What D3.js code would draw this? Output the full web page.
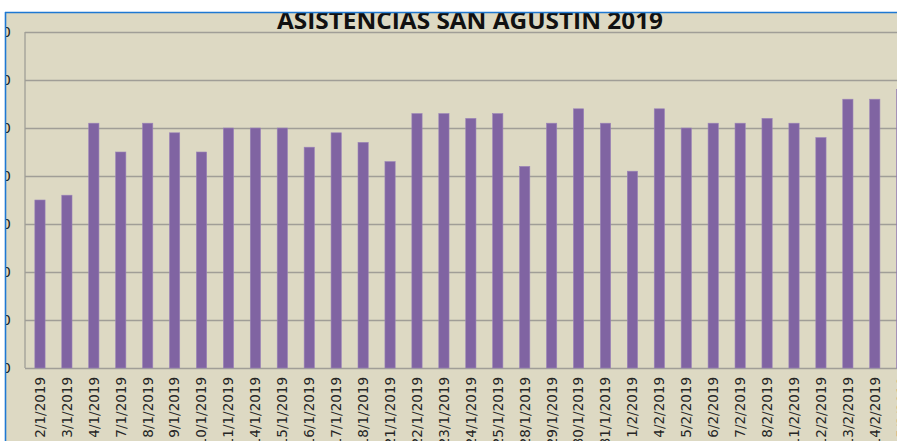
<!DOCTYPE html>
<html>
<head>
<meta charset="utf-8">
<script src="https://cdn.jsdelivr.net/npm/d3@7"></script>
<style>
  body { margin: 0; background: #fff; }
  svg { display: block; }
</style>
</head>
<body>
<div id="chart"></div>
<script>
// data
var fechas = ["2/1/2019", "3/1/2019", "4/1/2019", "7/1/2019", "8/1/2019", "9/1/2019",
  "10/1/2019", "11/1/2019", "14/1/2019", "15/1/2019", "16/1/2019", "17/1/2019",
  "18/1/2019", "21/1/2019", "22/1/2019", "23/1/2019", "24/1/2019", "25/1/2019",
  "28/1/2019", "29/1/2019", "30/1/2019", "31/1/2019", "1/2/2019", "4/2/2019",
  "5/2/2019", "6/2/2019", "7/2/2019", "8/2/2019", "11/2/2019", "12/2/2019",
  "13/2/2019", "14/2/2019", "15/2/2019"];
var asistencias = [35, 36, 51, 45, 51, 49, 45, 50, 50, 50, 46, 49, 47, 43, 53, 53, 52, 53,
  42, 51, 54, 51, 41, 54, 50, 51, 51, 52, 51, 48, 56, 56, 58];
var yTicks = [0, 10, 20, 30, 40, 50, 60, 70];

var svgWidth = 897;
var svgHeight = 441;

var plot = { left: 25, top: 32, bottom: 368 };
var step = 26.93;
var firstEdge = 26.5;

var svg = d3.select("#chart")
  .append("svg")
  .attr("width", svgWidth)
  .attr("height", svgHeight);

// chart frame (screenshot is cropped: only top and left edges visible)
svg.append("rect")
  .attr("x", 5)
  .attr("y", 12)
  .attr("width", svgWidth)
  .attr("height", svgHeight)
  .attr("fill", "#ddd9c3");

var chartGroup = svg.append("g");

var xScale = d3.scaleBand()
  .domain(fechas)
  .range([firstEdge, firstEdge + step * fechas.length])
  .paddingInner(0.62)
  .paddingOuter(0.31);

var yScale = d3.scaleLinear()
  .domain([0, 70])
  .range([plot.bottom, plot.top]);

// gridlines + y labels
var leftAxis = d3.axisLeft(yScale)
  .tickValues(yTicks)
  .tickSize(-(svgWidth + 20))
  .tickPadding(14);

chartGroup.append("g")
  .attr("class", "y-axis")
  .attr("transform", `translate(${plot.left}, 0)`)
  .call(leftAxis)
  .call(g => g.select(".domain").remove())
  .call(g => g.selectAll("line").attr("stroke", "#a09e97").attr("stroke-width", 1.3))
  .call(g => g.selectAll("text")
    .attr("fill", "#222")
    .attr("font-family", "DejaVu Sans, sans-serif")
    .attr("font-size", "14px"));

// left border of plot area
chartGroup.append("line")
  .attr("x1", plot.left).attr("x2", plot.left)
  .attr("y1", plot.top).attr("y2", plot.bottom)
  .attr("stroke", "#a09e97")
  .attr("stroke-width", 1.3);

// bars
chartGroup.selectAll("rect.bar")
  .data(asistencias)
  .enter()
  .append("rect")
  .attr("class", "bar")
  .attr("x", (d, i) => xScale(fechas[i]))
  .attr("y", d => yScale(d))
  .attr("width", xScale.bandwidth())
  .attr("height", d => plot.bottom - yScale(d))
  .attr("fill", "#8064a2")
  .attr("stroke", "#9a84b8")
  .attr("stroke-width", 0.6);

// x labels, rotated
var bottomAxis = d3.axisBottom(xScale).tickSize(0).tickPadding(0);

chartGroup.append("g")
  .attr("class", "x-axis")
  .attr("transform", `translate(0, ${plot.bottom})`)
  .call(bottomAxis)
  .call(g => g.select(".domain").remove())
  .call(g => g.selectAll("text")
    .attr("transform", "rotate(-90)")
    .attr("text-anchor", "end")
    .attr("x", -9)
    .attr("y", 0)
    .attr("dy", "0.36em")
    .attr("fill", "#262626")
    .attr("font-family", "DejaVu Sans, sans-serif")
    .attr("font-size", "13.5px"));

// title
svg.append("text")
  .attr("x", 470)
  .attr("y", 29)
  .attr("text-anchor", "middle")
  .attr("font-family", "Open Sans, Liberation Sans, sans-serif")
  .attr("font-weight", "bold")
  .attr("font-size", "24px")
  .attr("textLength", 386)
  .attr("lengthAdjust", "spacingAndGlyphs")
  .attr("fill", "#111")
  .text("ASISTENCIAS SAN AGUSTIN 2019");

// white outside the cropped frame, then the blue frame edge
svg.append("rect").attr("x", 0).attr("y", 0).attr("width", svgWidth).attr("height", 12).attr("fill", "#fff");
svg.append("rect").attr("x", 0).attr("y", 0).attr("width", 5).attr("height", svgHeight).attr("fill", "#fff");
svg.append("line")
  .attr("x1", 5).attr("x2", svgWidth)
  .attr("y1", 12.5).attr("y2", 12.5)
  .attr("stroke", "#1e78d2").attr("stroke-width", 1.6);
svg.append("line")
  .attr("x1", 5.5).attr("x2", 5.5)
  .attr("y1", 12).attr("y2", svgHeight)
  .attr("stroke", "#1e78d2").attr("stroke-width", 1.6);
</script>
</body>
</html>
